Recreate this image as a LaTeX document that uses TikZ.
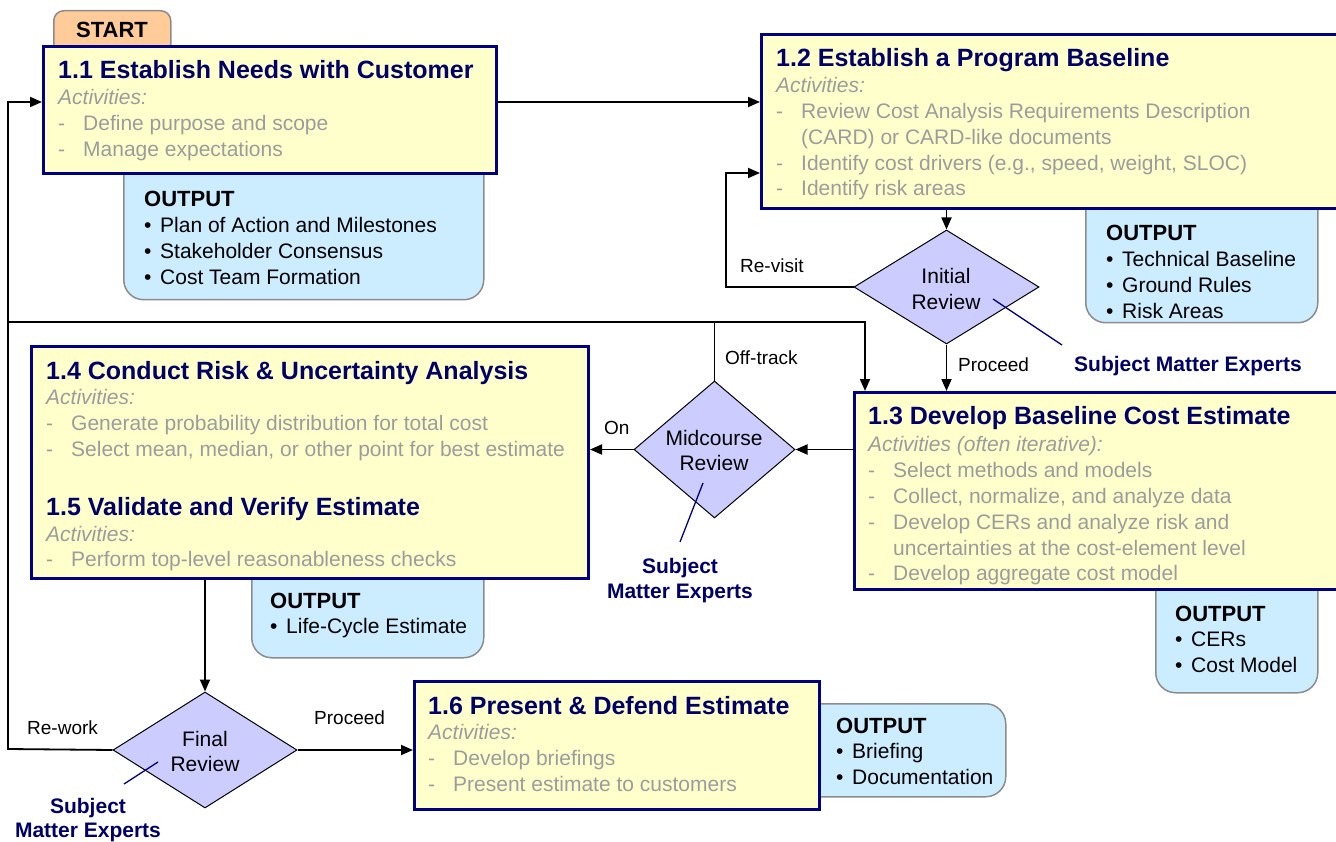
\documentclass[tikz,border=0pt]{standalone}
\usepackage{fontspec}
\setmainfont{Liberation Sans}
\usetikzlibrary{shapes.geometric,arrows.meta}
\definecolor{navyb}{HTML}{000080}
\definecolor{navyt}{HTML}{000066}
\definecolor{grayt}{HTML}{9C9C9C}
\definecolor{yel}{HTML}{FFFFCC}
\definecolor{blu}{HTML}{CCECFF}
\definecolor{lav}{HTML}{CCCCFF}
\definecolor{org}{HTML}{FFCC99}
\definecolor{obord}{HTML}{8C8C8C}
\newcommand\txtblk[1]{\vtop{\baselineskip=25.8pt\lineskiplimit=-100pt\lineskip=0pt #1}}
\newcommand\ttl[1]{\hbox{\fontsize{25}{25}\selectfont\bfseries\color{navyt}#1}}
\newcommand\actl[1]{\hbox{\itshape\color{grayt}#1}}
\newcommand\dsh[1]{\hbox{\color{grayt}\makebox[25pt][l]{-}#1}}
\newcommand\cnt[1]{\hbox{\color{grayt}\hspace*{25pt}#1}}
\newcommand\otl{\hbox{\fontsize{22}{22}\selectfont\bfseries OUTPUT}}
\newcommand\bul[1]{\hbox{\makebox[16pt][l]{\textbullet}#1}}
\newcommand\cl[1]{\hbox to 0pt{\hss#1\hss}}
\begin{document}
\begin{tikzpicture}[x=1pt,y=-1pt,
  actbox/.style={draw=navyb, line width=3pt, fill=yel, inner sep=0pt, anchor=north west},
  outbox/.style={draw=obord, line width=1.5pt, fill=blu, rounded corners=20pt, inner sep=0pt, anchor=north west},
  diam/.style={diamond, draw=black, line width=1pt, fill=lav, inner sep=0pt},
  txt/.style={inner sep=0pt, anchor=base west, font=\fontsize{21}{25}\selectfont},
  lbl/.style={inner sep=0pt, anchor=base west, font=\fontsize{19}{23}\selectfont},
  sme/.style={inner sep=0pt, anchor=base, font=\fontsize{21}{25}\selectfont\bfseries, text=navyt},
  conn/.style={draw=black, line width=1.8pt},
  arr/.style={conn, -{Triangle[length=12pt,width=10pt]}},
  smel/.style={draw=navyb, line width=1.3pt}]
\useasboundingbox (0,0) rectangle (1336,842);

% output boxes (behind)
\node[outbox, minimum width=360pt, minimum height=159pt] (o11) at (123,140) {};
\node[outbox, minimum width=232pt, minimum height=142pt] (o12) at (1085,180) {};
\node[outbox, minimum width=162pt, minimum height=132pt] (o13) at (1155,560) {};
\node[outbox, minimum width=232pt, minimum height=107pt] (o15) at (251,550) {};
\node[outbox, minimum width=225pt, minimum height=93pt] (o16) at (780,703) {};

% start tab
\node[draw=obord, line width=1.5pt, fill=org, rounded corners=10pt, inner sep=0pt, anchor=north west,
      minimum width=117pt, minimum height=50pt] (start) at (53,10) {};
\node[inner sep=0pt, anchor=base, font=\fontsize{22}{22}\selectfont\bfseries] (startt) at (112,38) {START};

% activity boxes
\node[actbox, minimum width=453pt, minimum height=127pt] (b11) at (42,45) {};
\node[actbox, minimum width=600pt, minimum height=174pt] (b12) at (760,33) {};
\node[actbox, minimum width=500pt, minimum height=197pt] (b13) at (853,391) {};
\node[actbox, minimum width=557pt, minimum height=232pt] (b14) at (30,345) {};
\node[actbox, minimum width=405pt, minimum height=128pt] (b16) at (413,680) {};

% activity texts
\node[txt] (t11) at (58,79) {\txtblk{\ttl{1.1 Establish Needs with Customer}\actl{Activities:}\dsh{Define purpose and scope}\dsh{Manage expectations}}};
\node[txt] (t12) at (776,67) {\txtblk{\ttl{1.2 Establish a Program Baseline}\actl{Activities:}\dsh{Review Cost Analysis Requirements Description}\cnt{(CARD) or CARD-like documents}\dsh{Identify cost drivers (e.g., speed, weight, SLOC)}\dsh{Identify risk areas}}};
\node[txt] (t13) at (868,424) {\txtblk{\ttl{1.3 Develop Baseline Cost Estimate}\vskip2pt\actl{Activities (often iterative):}\dsh{Select methods and models}\dsh{Collect, normalize, and analyze data}\dsh{Develop CERs and analyze risk and}\cnt{uncertainties at the cost-element level}\dsh{Develop aggregate cost model}}};
\node[txt] (t14) at (46,379) {\txtblk{\ttl{1.4 Conduct Risk \& Uncertainty Analysis}\actl{Activities:}\dsh{Generate probability distribution for total cost}\dsh{Select mean, median, or other point for best estimate}\vskip33pt\ttl{1.5 Validate and Verify Estimate}\actl{Activities:}\dsh{Perform top-level reasonableness checks}}};
\node[txt] (t16) at (428,714) {\txtblk{\ttl{1.6 Present \& Defend Estimate}\actl{Activities:}\dsh{Develop briefings}\dsh{Present estimate to customers}}};

% output texts
\node[txt] (u11) at (144,207) {\txtblk{\otl\bul{Plan of Action and Milestones}\bul{Stakeholder Consensus}\bul{Cost Team Formation}}};
\node[txt] (u12) at (1106,241) {\txtblk{\otl\bul{Technical Baseline}\bul{Ground Rules}\bul{Risk Areas}}};
\node[txt] (u13) at (1175,621) {\txtblk{\otl\bul{CERs}\bul{Cost Model}}};
\node[txt] (u15) at (270,608) {\txtblk{\otl\bul{Life-Cycle Estimate}}};
\node[txt] (u16) at (836,733) {\txtblk{\otl\bul{Briefing}\bul{Documentation}}};

% diamonds
\node[diam, minimum width=185pt, minimum height=114pt] (ir) at (946.5,287) {};
\node[diam, minimum width=161pt, minimum height=137pt] (md) at (714.5,449.5) {};
\node[diam, minimum width=184pt, minimum height=116pt] (fr) at (205,750) {};
\node[txt, anchor=base] (irt) at (946,284) {\txtblk{\cl{Initial}\cl{Review}}};
\node[txt, anchor=base] (mdt) at (714,445) {\txtblk{\cl{Midcourse}\cl{Review}}};
\node[txt, anchor=base] (frt) at (205,746) {\txtblk{\cl{Final}\cl{Review}}};

% coordinates
\coordinate (r1) at (600,102);
\coordinate (rv) at (726,173);
\coordinate (ot) at (865,322);
\coordinate (rail1) at (8,322);
\coordinate (rail2) at (8,102);
\coordinate (rail3) at (8,749);

% connectors
\draw[arr] (b11.east |- r1) -- (b12.west |- r1);
\draw[arr] (ir.north |- b12.south) -- (ir.north);
\draw[arr] (ir.west) -| (rv) -- (b12.west |- rv);
\draw[arr] (ir.south) -- (ir.south |- b13.north);
\draw[conn] (md.north) -- (md.north |- ot);
\draw[arr] (rail1) -- (ot) -- (ot |- b13.north);
\draw[arr] (fr.west) -- (rail3) -- (rail2) -- (b11.west |- rail2);
\draw[arr] (b13.west |- md.east) -- (md.east);
\draw[arr] (md.west) -- (b14.east |- md.west);
\draw[arr] (fr.north |- b14.south) -- (fr.north);
\draw[arr] (fr.east) -- (b16.west |- fr.east);

% labels
\node[lbl] (lrv) at (740,273) {Re-visit};
\node[lbl] (lpr1) at (958,371) {Proceed};
\node[lbl] (lot) at (725,364) {Off-track};
\node[lbl] (lon) at (604,434) {On};
\node[lbl] (lrw) at (27,734) {Re-work};
\node[lbl] (lpr2) at (314,724) {Proceed};

% subject matter experts
\coordinate (s1a) at (993,299); \coordinate (s1b) at (1062,345);
\draw[smel] (s1a) -- (s1b);
\node[sme, anchor=base west] (sme1) at (1074,371) {Subject Matter Experts};
\coordinate (s2a) at (703,483); \coordinate (s2b) at (680,542);
\draw[smel] (s2a) -- (s2b);
\node[sme] (sme2) at (680,573) {\txtblk{\cl{Subject}\cl{Matter Experts}}};
\coordinate (s3a) at (158,762); \coordinate (s3b) at (124,784);
\draw[smel] (s3a) -- (s3b);
\node[sme] (sme3) at (88,813) {\txtblk{\baselineskip=24.5pt\cl{Subject}\cl{Matter Experts}}};
\end{tikzpicture}
\end{document}
